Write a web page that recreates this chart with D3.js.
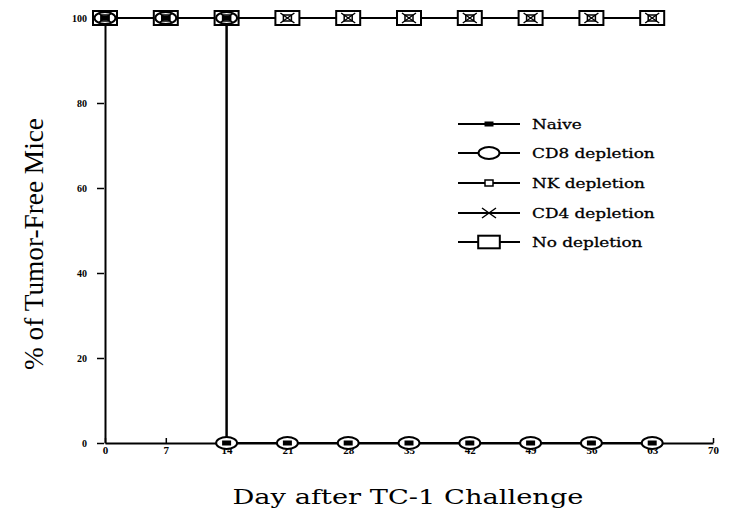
<!DOCTYPE html>
<html>
<head>
<meta charset="utf-8">
<script src="https://cdn.jsdelivr.net/npm/d3@7"></script>
<style>
  html, body { margin: 0; padding: 0; background: #fff; }
  svg { display: block; }
</style>
</head>
<body>
<svg id="chart" width="731" height="517"></svg>
<script>
// Survival data: % of tumor-free mice by day after challenge
const xTicks = [0, 7, 14, 21, 28, 35, 42, 49, 56, 63, 70];
const yTicks = [0, 20, 40, 60, 80, 100];

// Naive and CD8-depleted groups lose protection at day 14 (step drop)
const naiveDays = [0, 7, 14, 14, 21, 28, 35, 42, 49, 56, 63];
const naiveVals = [100, 100, 100, 0, 0, 0, 0, 0, 0, 0, 0];
const cd8Days = [0, 7, 14, 14, 21, 28, 35, 42, 49, 56, 63];
const cd8Vals = [100, 100, 100, 0, 0, 0, 0, 0, 0, 0, 0];
// Groups that stay tumor-free throughout
const nkDays = [0, 7, 14, 21, 28, 35, 42, 49, 56, 63];
const nkVals = [100, 100, 100, 100, 100, 100, 100, 100, 100, 100];
const cd4Days = [0, 7, 14, 21, 28, 35, 42, 49, 56, 63];
const cd4Vals = [100, 100, 100, 100, 100, 100, 100, 100, 100, 100];
const noDepDays = [0, 7, 14, 21, 28, 35, 42, 49, 56, 63];
const noDepVals = [100, 100, 100, 100, 100, 100, 100, 100, 100, 100];

const seriesNames = ["Naive", "CD8 depletion", "NK depletion", "CD4 depletion", "No depletion"];
const seriesSymbols = ["fillrect", "ellipse", "smallrect", "cross", "bigrect"];

const svg = d3.select("#chart");
const x = d3.scaleLinear().domain([0, 70]).range([105, 713]);
const y = d3.scaleLinear().domain([0, 100]).range([443, 18]);

const times = "'Liberation Serif', 'Times New Roman', serif";
const wideSerif = "'DejaVu Serif', 'Liberation Serif', serif";

// Axes
const xAxis = d3.axisBottom(x).tickValues(xTicks).tickSize(-5).tickPadding(3).tickSizeOuter(0);
const gx = svg.append("g").attr("transform", `translate(0,${y(0)})`).call(xAxis);
gx.select(".domain").attr("stroke", "#000").attr("stroke-width", 2);
gx.selectAll(".tick line").attr("stroke", "#000").attr("stroke-width", 1.5);
gx.selectAll(".tick text").attr("font-family", times).attr("font-size", 11).attr("font-weight", "bold").attr("fill", "#000");

const yAxis = d3.axisLeft(y).tickValues(yTicks).tickSize(8).tickPadding(10).tickSizeOuter(0);
const gy = svg.append("g").attr("transform", `translate(${x(0)},0)`).call(yAxis);
gy.select(".domain").attr("stroke", "#000").attr("stroke-width", 2);
gy.selectAll(".tick line").attr("stroke", "#000").attr("stroke-width", 1.5)
  .attr("x2", -8).attr("x1", -1);
gy.selectAll(".tick text").attr("font-family", times).attr("font-size", 10).attr("font-weight", "bold").attr("fill", "#000");

// Axis titles (the y title is a tall, condensed face)
const yTitle = svg.append("text")
  .attr("text-anchor", "middle")
  .attr("font-family", times)
  .attr("font-size", 28)
  .text("% of Tumor-Free Mice");
const yLen = yTitle.node().getComputedTextLength();
yTitle.attr("transform", `translate(43,244) rotate(-90) scale(${252 / yLen},1)`);

svg.append("text")
  .attr("x", 408).attr("y", 504)
  .attr("text-anchor", "middle")
  .attr("font-family", wideSerif)
  .attr("font-size", 21)
  .attr("textLength", 351)
  .attr("lengthAdjust", "spacingAndGlyphs")
  .text("Day after TC-1 Challenge");

// Symbol drawing
function drawSymbol(g, kind, cx, cy, scale) {
  const s = scale || 1;
  if (kind === "bigrect") {
    g.append("rect").attr("x", cx - 12 * s).attr("y", cy - 7 * s)
      .attr("width", 24 * s).attr("height", 14 * s)
      .attr("fill", "#fff").attr("stroke", "#000").attr("stroke-width", 2);
  } else if (kind === "ellipse") {
    g.append("ellipse").attr("cx", cx).attr("cy", cy).attr("rx", 10.5 * s).attr("ry", 6 * s)
      .attr("fill", "#fff").attr("stroke", "#000").attr("stroke-width", 2);
  } else if (kind === "smallrect") {
    g.append("rect").attr("x", cx - 4 * s).attr("y", cy - 3 * s)
      .attr("width", 8 * s).attr("height", 6 * s)
      .attr("fill", "#fff").attr("stroke", "#000").attr("stroke-width", 1.5);
  } else if (kind === "cross") {
    g.append("path").attr("d", `M${cx - 7 * s},${cy - 5 * s}L${cx + 7 * s},${cy + 5 * s}M${cx - 7 * s},${cy + 5 * s}L${cx + 7 * s},${cy - 5 * s}`)
      .attr("stroke", "#000").attr("stroke-width", 1.5).attr("fill", "none");
  } else if (kind === "fillrect") {
    g.append("rect").attr("x", cx - 4.5 * s).attr("y", cy - 2.5 * s)
      .attr("width", 9 * s).attr("height", 5 * s)
      .attr("fill", "#000");
  }
}

const line = d3.line().x(d => x(d[0])).y(d => y(d[1]));
const seriesData = [
  [naiveDays, naiveVals],
  [cd8Days, cd8Vals],
  [nkDays, nkVals],
  [cd4Days, cd4Vals],
  [noDepDays, noDepVals]
];

// Lines first
const plot = svg.append("g");
seriesData.forEach(([ds, vs]) => {
  const pts = ds.map((d, i) => [d, vs[i]]);
  plot.append("path").datum(pts).attr("d", line)
    .attr("fill", "none").attr("stroke", "#000").attr("stroke-width", 2);
});

// Markers, largest first so smaller ones sit on top
const order = [4, 1, 2, 3, 0];
order.forEach(k => {
  const [ds, vs] = seriesData[k];
  const g = plot.append("g");
  ds.forEach((d, i) => drawSymbol(g, seriesSymbols[k], x(d), y(vs[i])));
});

// Legend
const legend = svg.append("g");
const legY = [124, 153, 183, 213, 242];
seriesNames.forEach((name, i) => {
  const ly = legY[i];
  legend.append("line").attr("x1", 458).attr("x2", 520).attr("y1", ly).attr("y2", ly)
    .attr("stroke", "#000").attr("stroke-width", 2);
  drawSymbol(legend, seriesSymbols[i], 489, ly, i === 4 ? 0.9 : 1);
  const t = legend.append("text").attr("x", 532).attr("y", ly + 5)
    .attr("font-family", wideSerif).attr("font-size", 13.5)
    .attr("stroke", "#000").attr("stroke-width", 0.3)
    .text(name);
  // widen the face to the broad serif look of the legend
  const w = t.node().getComputedTextLength();
  t.attr("textLength", w * 1.25).attr("lengthAdjust", "spacingAndGlyphs");
});
</script>
</body>
</html>
